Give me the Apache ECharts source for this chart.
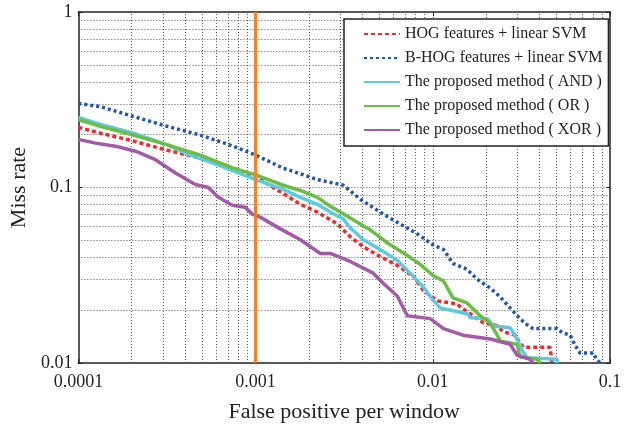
<!DOCTYPE html>
<html><head><meta charset="utf-8">
<script src="https://cdn.jsdelivr.net/npm/echarts@6/dist/echarts.min.js"></script>
<style>html,body{margin:0;padding:0;background:#fff}#c{width:633px;height:428px}</style>
</head><body><div id="c"></div>
<script>
// ---- data ----
const xTickValues = [0.0001, 0.001, 0.01, 0.1];
const xTickLabels = ['0.0001', '0.001', '0.01', '0.1'];
const yTickValues = [0.01, 0.1, 1];
const yTickLabels = ['0.01', '0.1', '1'];
const seriesNames = [
  'HOG features + linear SVM',
  'B-HOG features + linear SVM',
  'The proposed method ( AND )',
  'The proposed method ( OR )',
  'The proposed method ( XOR )'
];
const referenceFppw = 0.001;

const hogX = [1.00e-4, 1.33e-4, 2.04e-4, 3.18e-4, 4.88e-4, 7.48e-4, 1.0e-3, 1.43e-3, 1.79e-3, 2.23e-3, 2.89e-3, 3.42e-3, 4.05e-3, 5.05e-3, 6.30e-3, 7.75e-3, 8.83e-3, 1.06e-2, 1.37e-2, 1.43e-2, 1.78e-2, 1.92e-2, 2.31e-2, 2.49e-2, 2.92e-2, 3.03e-2, 3.24e-2, 4.59e-2, 4.71e-2];
const hogY = [0.220, 0.204, 0.184, 0.163, 0.147, 0.129, 0.115, 0.0925, 0.0802, 0.0724, 0.0620, 0.0524, 0.0460, 0.0404, 0.0360, 0.0312, 0.0260, 0.0226, 0.0217, 0.0209, 0.0179, 0.0170, 0.0163, 0.0151, 0.0144, 0.0135, 0.0123, 0.0123, 0.0100];

const bhogX = [1.00e-4, 1.33e-4, 2.04e-4, 3.18e-4, 4.88e-4, 7.48e-4, 1.0e-3, 1.43e-3, 2.23e-3, 3.13e-3, 3.90e-3, 5.25e-3, 6.55e-3, 8.17e-3, 1.00e-2, 1.15e-2, 1.30e-2, 1.56e-2, 1.78e-2, 2.11e-2, 2.40e-2, 2.73e-2, 2.99e-2, 3.32e-2, 3.68e-2, 5.03e-2, 5.37e-2, 5.96e-2, 6.35e-2, 6.78e-2, 8.04e-2, 8.45e-2, 8.79e-2];
const bhogY = [0.301, 0.289, 0.254, 0.223, 0.199, 0.172, 0.153, 0.129, 0.111, 0.103, 0.0857, 0.0705, 0.0620, 0.0544, 0.0472, 0.0443, 0.0369, 0.0342, 0.0300, 0.0267, 0.0238, 0.0206, 0.0186, 0.0168, 0.0157, 0.0157, 0.0149, 0.0144, 0.0126, 0.0114, 0.0114, 0.0104, 0.0100];

const andX = [1.00e-4, 1.33e-4, 2.04e-4, 3.18e-4, 4.28e-4, 6.08e-4, 1.0e-3, 1.43e-3, 1.79e-3, 2.23e-3, 2.64e-3, 3.13e-3, 3.42e-3, 4.05e-3, 5.05e-3, 6.30e-3, 7.46e-3, 8.83e-3, 1.00e-2, 1.10e-2, 1.56e-2, 1.63e-2, 2.03e-2, 2.19e-2, 2.73e-2, 2.99e-2, 3.11e-2, 3.24e-2, 3.40e-2, 5.03e-2, 5.03e-2];
const andY = [0.251, 0.229, 0.204, 0.175, 0.153, 0.135, 0.111, 0.0975, 0.0879, 0.0802, 0.0724, 0.0661, 0.0589, 0.0504, 0.0443, 0.0384, 0.0325, 0.0271, 0.0229, 0.0206, 0.0191, 0.0181, 0.0179, 0.0163, 0.0159, 0.0137, 0.0126, 0.0115, 0.0107, 0.0105, 0.0100];

const orX = [1.00e-4, 1.33e-4, 2.04e-4, 3.18e-4, 4.88e-4, 7.48e-4, 1.0e-3, 1.43e-3, 1.79e-3, 2.23e-3, 2.64e-3, 3.42e-3, 4.44e-3, 5.53e-3, 7.18e-3, 8.49e-3, 1.00e-2, 1.15e-2, 1.30e-2, 1.56e-2, 1.85e-2, 2.11e-2, 2.31e-2, 2.40e-2, 2.99e-2, 3.11e-2, 3.88e-2, 4.04e-2];
const orY = [0.244, 0.223, 0.199, 0.175, 0.153, 0.129, 0.118, 0.103, 0.0962, 0.0879, 0.0782, 0.0670, 0.0573, 0.0484, 0.0410, 0.0365, 0.0316, 0.0293, 0.0235, 0.0220, 0.0186, 0.0168, 0.0144, 0.0133, 0.0128, 0.0108, 0.0105, 0.0100];

const xorX = [1.00e-4, 1.25e-4, 1.62e-4, 2.10e-4, 2.72e-4, 3.53e-4, 4.57e-4, 5.41e-4, 6.16e-4, 7.39e-4, 8.75e-4, 9.58e-4, 1.06e-3, 1.38e-3, 1.79e-3, 2.32e-3, 2.64e-3, 3.42e-3, 4.61e-3, 5.25e-3, 6.30e-3, 7.18e-3, 9.67e-3, 1.15e-2, 1.48e-2, 2.11e-2, 2.73e-2, 2.99e-2, 3.54e-2, 3.68e-2];
const xorY = [0.188, 0.179, 0.172, 0.161, 0.144, 0.121, 0.104, 0.100, 0.0879, 0.0792, 0.0772, 0.0705, 0.0678, 0.0581, 0.0504, 0.0421, 0.0421, 0.0379, 0.0325, 0.0285, 0.0241, 0.0186, 0.0179, 0.0157, 0.0144, 0.0137, 0.0128, 0.0111, 0.0105, 0.0100];

// ---- chart ----
const zip = (xs, ys) => xs.map((x, i) => [x, ys[i]]);
const xMin = 0.0001, xMax = 0.1, yMin = 0.01, yMax = 1;
const decadesX = [1e-4, 1e-3, 1e-2];
const decadesY = [1e-2, 1e-1];
const gridX = [], gridY = [];
decadesX.forEach(d => { for (let k = 1; k <= 9; k++) gridX.push(+(k * d).toPrecision(3)); });
decadesY.forEach(d => { for (let k = 1; k <= 9; k++) gridY.push(+(k * d).toPrecision(3)); });

const serif = 'Liberation Serif';
const labelFor = (vals, labels) => v => {
  for (let i = 0; i < vals.length; i++) if (Math.abs(Math.log10(v) - Math.log10(vals[i])) < 1e-6) return labels[i];
  return '';
};

const colors = ['#ee2b2e', '#2255a4', '#5ccbe0', '#6cbd45', '#a35aa8'];
const dashes = [[4, 3], [3, 3], 'solid', 'solid', 'solid'];
const xs = [hogX, bhogX, andX, orX, xorX];
const ys = [hogY, bhogY, andY, orY, xorY];

const dataSeries = seriesNames.map((name, i) => ({
  name, type: 'line', xAxisIndex: 0, yAxisIndex: 0,
  data: zip(xs[i], ys[i]), symbol: 'none', showSymbol: false, z: 3,
  lineStyle: { color: colors[i], width: 3.5, type: dashes[i] },
  itemStyle: { color: colors[i] },
  animation: false
}));

const gridLines = {
  name: '__grid', type: 'lines', coordinateSystem: 'cartesian2d', xAxisIndex: 0, yAxisIndex: 0,
  z: 1, silent: true, animation: false,
  lineStyle: { color: '#555', width: 1, type: [1, 2], opacity: 1 },
  data: gridX.filter(v => v > xMin).map(v => ({ coords: [[v, yMin], [v, yMax]] }))
    .concat(gridY.filter(v => v > yMin).map(v => ({ coords: [[xMin, v], [xMax, v]] })))
};
const refLine = {
  name: '__ref', type: 'lines', coordinateSystem: 'cartesian2d', xAxisIndex: 0, yAxisIndex: 0,
  z: 5, silent: true, animation: false,
  lineStyle: { color: '#f4822c', width: 3, type: 'solid', opacity: 1 },
  data: [{ coords: [[referenceFppw, yMin], [referenceFppw, yMax]] }]
};

const axisCommon = {
  type: 'log', logBase: 10,
  axisLine: { show: true, onZero: false, lineStyle: { color: '#222', width: 1.5 } },
  splitLine: { show: false },
  axisTick: { show: true, inside: true, length: 4, lineStyle: { color: '#222' } }
};

const option = {
  backgroundColor: '#fff',
  animation: false,
  grid: { left: 78, right: 23, top: 12, bottom: 60, containLabel: false },
  legend: {
    data: seriesNames, orient: 'vertical', left: 344, top: 19,
    itemWidth: 36, itemHeight: 14, itemGap: 8,
    padding: [7, 6, 8, 19],
    itemStyle: { opacity: 0, borderWidth: 0 },
    backgroundColor: '#fff', borderColor: '#222', borderWidth: 1.5, borderRadius: 0,
    textStyle: { fontFamily: serif, fontSize: 16, color: '#222' }
  },
  xAxis: [
    Object.assign({}, axisCommon, {
      position: 'bottom', min: xMin, max: xMax,
      axisLabel: { fontFamily: serif, fontSize: 18, color: '#222', margin: 10, formatter: labelFor(xTickValues, xTickLabels) },
      name: 'False positive per window', nameLocation: 'middle', nameGap: 38,
      nameTextStyle: { fontFamily: serif, fontSize: 22, color: '#222' }
    }),
    Object.assign({}, axisCommon, { position: 'top', min: xMin, max: xMax, axisLabel: { show: false } })
  ],
  yAxis: [
    Object.assign({}, axisCommon, {
      position: 'left', min: yMin, max: yMax,
      axisLabel: { fontFamily: serif, fontSize: 18, color: '#222', margin: 6, formatter: labelFor(yTickValues, yTickLabels) },
      name: 'Miss rate', nameLocation: 'middle', nameGap: 46,
      nameTextStyle: { fontFamily: serif, fontSize: 22, color: '#222' }
    }),
    Object.assign({}, axisCommon, { position: 'right', min: yMin, max: yMax, axisLabel: { show: false } })
  ],
  series: [gridLines].concat(dataSeries).concat([refLine])
};

const chart = echarts.init(document.getElementById('c'), null, { renderer: 'canvas' });
chart.setOption(option);
</script>
</body></html>
